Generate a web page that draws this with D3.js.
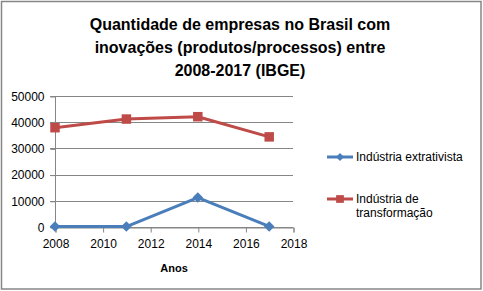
<!DOCTYPE html>
<html>
<head>
<meta charset="utf-8">
<script src="https://cdn.jsdelivr.net/npm/d3@7"></script>
<style>
  body { margin: 0; background: #fff; }
  text { font-family: "Liberation Sans", "DejaVu Sans", sans-serif; }
</style>
</head>
<body>
<div id="chart"></div>
<script>
var years = [ 2008, 2011, 2014, 2017 ];
var extrativista = [ 150, 150, 11250, 200 ];
var transformacao = [ 37900, 41200, 42100, 34400 ];
var seriesNames = [ 'Indústria extrativista', 'Indústria de transformação' ];
var seriesColors = [ '#4A7EBB', '#BE4B48' ];
var xTicks = [ 2008, 2010, 2012, 2014, 2016, 2018 ];
var yTicks = [ 0, 10000, 20000, 30000, 40000, 50000 ];
var titleLines = [ 'Quantidade de empresas no Brasil com', 'inovações (produtos/processos) entre', '2008-2017 (IBGE)' ];

var width = 483, height = 291;
var plot = { left: 55, right: 293, top: 96, bottom: 227 };

var svg = d3.select( '#chart' ).append( 'svg' )
  .attr( 'width', width )
  .attr( 'height', height );

svg.append( 'rect' )
  .attr( 'x', 1.5 ).attr( 'y', 1.5 )
  .attr( 'width', width - 3.5 ).attr( 'height', height - 3.5 )
  .attr( 'fill', '#fff' )
  .attr( 'stroke', '#868686' )
  .attr( 'stroke-width', 1.5 );

// title
svg.append( 'text' )
  .attr( 'text-anchor', 'middle' )
  .attr( 'font-weight', 'bold' )
  .attr( 'font-size', 16 )
  .attr( 'fill', '#000' )
  .selectAll( 'tspan' )
  .data( titleLines )
  .enter()
  .append( 'tspan' )
    .attr( 'x', 240 )
    .attr( 'y', ( d, i ) => 30 + i * 23 )
    .text( d => d );

var xScale = d3.scaleLinear().domain( [ 2008, 2018 ] ).range( [ plot.left, plot.right ] );
var yScale = d3.scaleLinear().domain( [ 0, 50000 ] ).range( [ plot.bottom, plot.top ] );

// gridlines
svg.append( 'g' )
  .selectAll( 'line' )
  .data( yTicks )
  .enter()
  .append( 'line' )
    .attr( 'x1', plot.left - 5 )
    .attr( 'x2', plot.right )
    .attr( 'y1', d => Math.round( yScale( d ) ) + 0.5 )
    .attr( 'y2', d => Math.round( yScale( d ) ) + 0.5 )
    .attr( 'stroke', '#868686' )
    .attr( 'stroke-width', 1 );

// y axis
var yAxis = svg.append( 'g' )
  .attr( 'transform', 'translate(' + ( plot.left + 0.5 ) + ',0.5)' )
  .call( d3.axisLeft( yScale ).tickValues( yTicks ).tickSize( 5 ).tickFormat( d3.format( 'd' ) ) );

// x axis
var xAxis = svg.append( 'g' )
  .attr( 'transform', 'translate(0.5,' + ( Math.round( plot.bottom ) + 0.5 ) + ')' )
  .call( d3.axisBottom( xScale ).tickValues( xTicks ).tickSize( 5 ).tickFormat( d3.format( 'd' ) ) );

[ yAxis, xAxis ].forEach( a => {
  a.select( '.domain' ).attr( 'stroke', '#868686' );
  a.selectAll( '.tick line' ).attr( 'stroke', '#868686' );
  a.selectAll( 'text' )
    .attr( 'font-size', 12 )
    .attr( 'font-family', '"Liberation Sans", sans-serif' )
    .attr( 'fill', '#000' );
} );
yAxis.select( '.domain' ).attr( 'd', 'M0,' + plot.top + 'V' + plot.bottom );
yAxis.selectAll( '.tick text' ).attr( 'x', -11 );
xAxis.selectAll( '.tick text' ).attr( 'y', 12 );

svg.append( 'text' )
  .attr( 'x', 174 ).attr( 'y', 272 )
  .attr( 'text-anchor', 'middle' )
  .attr( 'font-size', 11 )
  .attr( 'font-weight', 'bold' )
  .text( 'Anos' );

// series
var series = [ extrativista, transformacao ];
var line = d3.line()
  .x( ( d, i ) => xScale( years[ i ] ) )
  .y( d => yScale( d ) );

var diamond = d3.symbol().type( d3.symbolDiamond2 ).size( 70 );
var square = d3.symbol().type( d3.symbolSquare ).size( 90 );
var symbols = [ diamond, square ];

series.forEach( ( s, k ) => {
  svg.append( 'path' )
    .datum( s )
    .attr( 'd', line )
    .attr( 'fill', 'none' )
    .attr( 'stroke', seriesColors[ k ] )
    .attr( 'stroke-width', 3 )
    .attr( 'stroke-linejoin', 'round' );

  svg.selectAll( '.marker' + k )
    .data( s )
    .enter()
    .append( 'path' )
      .attr( 'class', 'marker' + k )
      .attr( 'transform', ( d, i ) => 'translate(' + xScale( years[ i ] ) + ',' + yScale( d ) + ')' )
      .attr( 'd', symbols[ k ] )
      .attr( 'fill', seriesColors[ k ] );
} );

// legend
var legendY = [ 157, 199 ];
var legendLabels = [ [ 'Indústria extrativista' ], [ 'Indústria de', 'transformação' ] ];
legendY.forEach( ( y, k ) => {
  var g = svg.append( 'g' ).attr( 'transform', 'translate(0,' + y + ')' );
  g.append( 'line' )
    .attr( 'x1', 327 ).attr( 'x2', 353 )
    .attr( 'stroke', seriesColors[ k ] )
    .attr( 'stroke-width', 3 );
  g.append( 'path' )
    .attr( 'transform', 'translate(340,0)' )
    .attr( 'd', k === 0 ? d3.symbol().type( d3.symbolDiamond2 ).size( 40 ) : d3.symbol().type( d3.symbolSquare ).size( 60 ) )
    .attr( 'fill', seriesColors[ k ] );
  g.append( 'text' )
    .attr( 'font-size', 12 )
    .attr( 'fill', '#000' )
    .selectAll( 'tspan' )
    .data( legendLabels[ k ] )
    .enter()
    .append( 'tspan' )
      .attr( 'x', 356 )
      .attr( 'y', ( d, i ) => 4 + i * 14 )
      .text( d => d );
} );
</script>
</body>
</html>
